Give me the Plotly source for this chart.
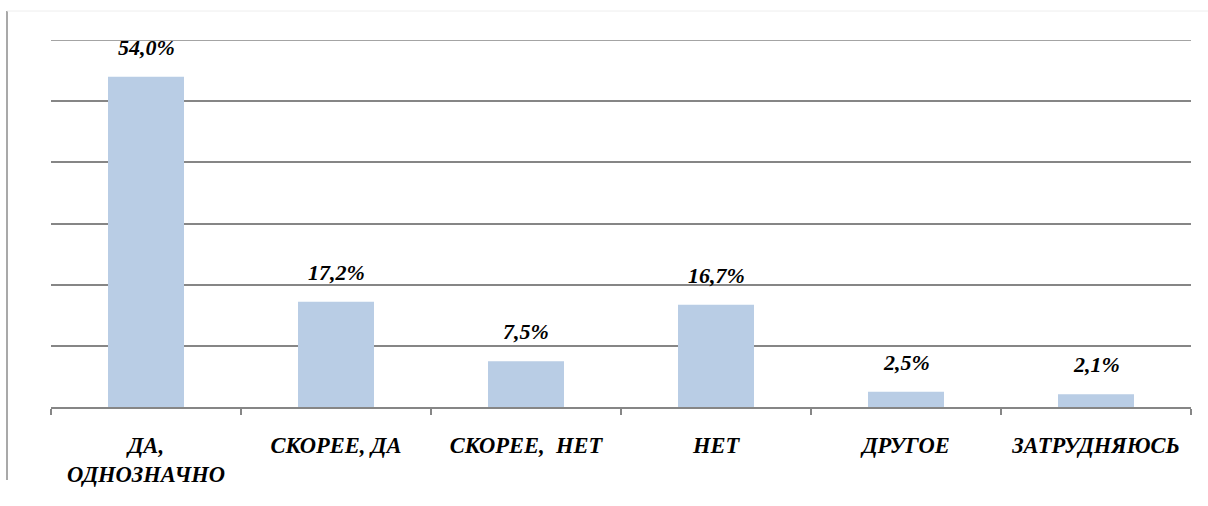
import plotly.graph_objects as go

categories = ["ДА,<br>ОДНОЗНАЧНО", "СКОРЕЕ, ДА", "СКОРЕЕ,  НЕТ", "НЕТ", "ДРУГОЕ", "ЗАТРУДНЯЮСЬ"]
values = [54.0, 17.2, 7.5, 16.7, 2.5, 2.1]
value_labels = ["54,0%", "17,2%", "7,5%", "16,7%", "2,5%", "2,1%"]
y_max = 60

SERIF = "Liberation Serif"
GRID = "#868686"

fig = go.Figure()
fig.add_trace(go.Bar(
    x=categories, y=values, width=0.4,
    marker=dict(color="#B9CDE5", line=dict(width=0)),
    hoverinfo="skip",
))

for c, v, t in zip(categories, values, value_labels):
    fig.add_annotation(
        x=c, y=v, text=f"<b><i>{t}</i></b>", showarrow=False,
        yanchor="bottom", yshift=15,
        font=dict(family=SERIF, size=22, color="#000000"),
    )

fig.update_layout(
    width=1208, height=506,
    margin=dict(l=51, r=17, t=40, b=99),
    paper_bgcolor="white", plot_bgcolor="white",
    showlegend=False,
    bargap=0.6,
    font=dict(family=SERIF),
    xaxis=dict(
        type="category",
        tickson="boundaries",
        ticks="outside", ticklen=6, tickcolor=GRID, tickwidth=1.5,
        showline=True, linecolor=GRID, linewidth=1.5,
        showgrid=False,
        tickmode="array", tickvals=categories,
        ticktext=[f"<b><i>{c}</i></b>" for c in categories],
        tickfont=dict(family=SERIF, size=22.5, color="#000000"),
        ticklabelstandoff=17,
    ),
    yaxis=dict(
        range=[0, y_max], dtick=10,
        showticklabels=False, ticks="",
        showgrid=True, gridcolor=GRID, gridwidth=1.5,
        zeroline=False, showline=False,
    ),
    shapes=[
        dict(type="line", xref="paper", yref="y",
             x0=0, x1=1, y0=y_max, y1=y_max,
             line=dict(color=GRID, width=1.5)),
        dict(type="line", xref="paper", yref="paper",
             x0=(7 - 51) / 1140, x1=(7 - 51) / 1140,
             y0=(407 - 11) / 367, y1=(407 - 480) / 367,
             line=dict(color="#8c8c8c", width=1.5)),
        dict(type="line", xref="paper", yref="paper",
             x0=(7 - 51) / 1140, x1=(1208 - 51) / 1140,
             y0=(407 - 11) / 367, y1=(407 - 11) / 367,
             line=dict(color="#eeeeee", width=1)),
    ],
)

fig.write_html(
    "out.html",
    config={"displayModeBar": False},
    post_script="document.body.style.margin='0';document.body.style.overflow='hidden';",
)
